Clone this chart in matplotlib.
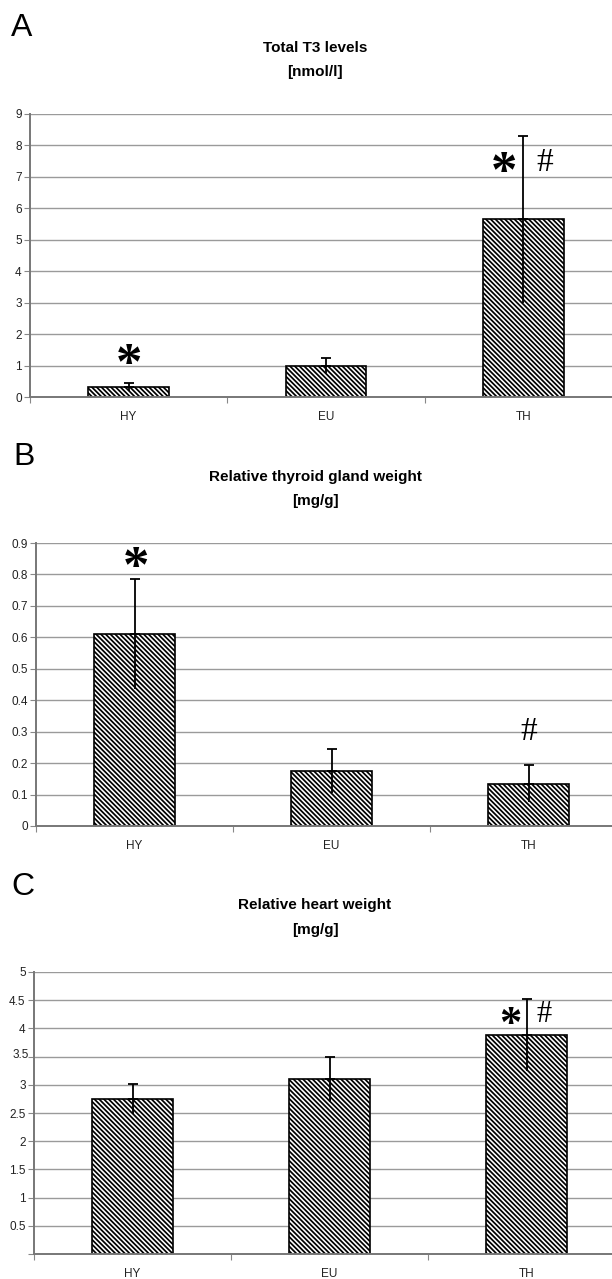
import numpy as np
import matplotlib
matplotlib.use("Agg")
import matplotlib.pyplot as plt
from matplotlib.transforms import ScaledTranslation

plt.rcParams['font.family'] = ['Liberation Sans', 'DejaVu Sans']
plt.rcParams['hatch.linewidth'] = 1.25

groups = ["HY", "EU", "TH"]

# panel A: total T3 levels [nmol/l]
t3_mean = [0.33, 1.0, 5.65]
t3_err = [0.13, 0.25, 2.65]

# panel B: relative thyroid gland weight [mg/g]
thy_mean = [0.61, 0.175, 0.135]
thy_err = [0.175, 0.07, 0.06]

# panel C: relative heart weight [mg/g]
heart_mean = [2.75, 3.1, 3.88]
heart_err = [0.27, 0.4, 0.64]

# significance marks: (group index, x offset, y value, symbol)
marks_a = [(0, 0.0, 1.35, "*"), (2, -0.10, 7.45, "*"), (2, 0.11, 7.45, "#")]
marks_b = [(0, 0.01, 0.855, "*"), (2, 0.0, 0.30, "#")]
marks_c = [(2, -0.08, 4.24, "*"), (2, 0.09, 4.24, "#")]

W, H = 612, 1279
fig = plt.figure(figsize=(W / 100, H / 100), dpi=100)


def box(left, top, right, bottom):
    return [left / W, 1 - bottom / H, (right - left) / W, (bottom - top) / H]


def panel(rect, means, errs, ymax, ystep, marks, letter, title, unit,
          letter_xy, title_y, star_size=38, hash_size=24, hide_zero=False):
    ax = fig.add_axes(rect)
    x = np.arange(len(groups))
    ax.bar(x, means, width=0.41, color="white", edgecolor="black",
           linewidth=1.2, hatch="\\\\\\\\\\\\\\", zorder=2)
    means = np.array(means)
    errs = np.array(errs)
    ax.errorbar(x, means, yerr=[np.zeros_like(errs), errs], fmt="none",
                ecolor="black", elinewidth=1.3, capsize=3.5, capthick=1.3, zorder=3)
    ax.vlines(x, means - errs, means, color="black", lw=1.3, zorder=3)

    ax.set_xlim(-0.5, 2.5)
    ax.set_ylim(0, ymax)
    yt = np.arange(0, ymax + ystep / 2, ystep)
    ax.set_yticks(yt)
    labels = ["%g" % v for v in yt]
    if hide_zero:
        labels[0] = ""
    ax.set_yticklabels(labels)
    ax.yaxis.grid(True, color="#9a9a9a", lw=1.0)
    ax.set_axisbelow(True)

    ax.set_xticks([-0.5, 0.5, 1.5, 2.5])
    ax.set_xticklabels([])
    ax.set_xticks(x, minor=True)
    ax.set_xticklabels(groups, minor=True)
    ax.tick_params(axis="x", which="major", length=4, color="#888888", direction="out")
    ax.tick_params(axis="x", which="minor", length=0, pad=10, labelsize=8.5, labelcolor="#222222")
    ax.tick_params(axis="y", length=4, color="#888888", pad=2, labelsize=8.5, labelcolor="#222222")

    for s in ["top", "right"]:
        ax.spines[s].set_visible(False)
    for s in ["left", "bottom"]:
        ax.spines[s].set_color("#777777")
        ax.spines[s].set_linewidth(1.4)

    for gi, dx, yv, sym in marks:
        if sym == "*":
            # the serif asterisk sits high in its box, pull it down onto the value
            shift = ScaledTranslation(0, -0.22 * star_size / 72, fig.dpi_scale_trans)
            ax.text(gi + dx, yv, sym, fontsize=star_size, fontweight="bold",
                    family="Liberation Serif", ha="center", va="center", zorder=4,
                    transform=ax.transData + shift)
        else:
            ax.text(gi + dx, yv, sym, fontsize=hash_size,
                    family="Liberation Serif", ha="center", va="center", zorder=4)

    fig.text(letter_xy[0] / W, 1 - letter_xy[1] / H, letter, fontsize=23,
             ha="left", va="center")
    fig.text(315 / W, 1 - title_y[0] / H, title, fontsize=11, fontweight="bold",
             ha="center", va="center")
    fig.text(315 / W, 1 - title_y[1] / H, unit, fontsize=11, fontweight="bold",
             ha="center", va="center")
    return ax


panel(box(30, 114, 622, 397), t3_mean, t3_err, 9, 1, marks_a,
      "A", "Total T3 levels", "[nmol/l]", (11, 28), (48, 72))
panel(box(36, 543, 627, 826), thy_mean, thy_err, 0.9, 0.1, marks_b,
      "B", "Relative thyroid gland weight", "[mg/g]", (13, 457), (477, 501))
axc = panel(box(34, 972, 625, 1254), heart_mean, heart_err, 5, 0.5, marks_c,
            "C", "Relative heart weight", "[mg/g]", (11, 887), (905, 930),
            star_size=32, hash_size=22, hide_zero=True)

# the 3.5 label in the original sits a little off its tick
for lab in axc.get_yticklabels():
    if lab.get_text() == "3.5":
        lab.set_transform(lab.get_transform() +
                          ScaledTranslation(3 / 100, 3 / 100, fig.dpi_scale_trans))

fig.savefig("out.png", dpi=100)
